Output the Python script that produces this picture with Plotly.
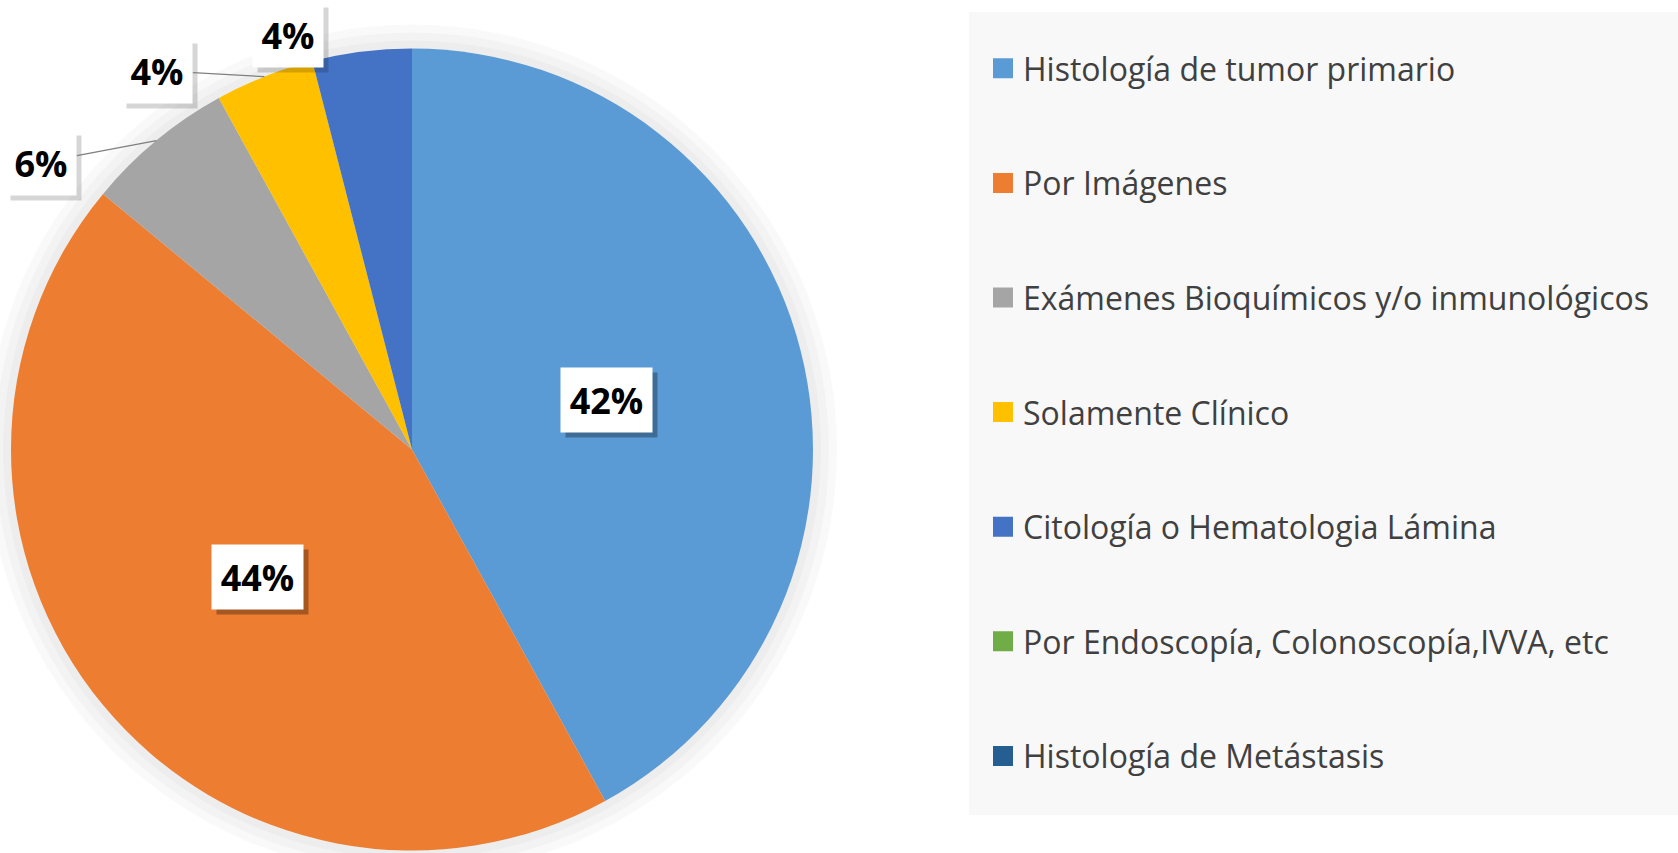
import math
import plotly.graph_objects as go

# ---------------- data ----------------
labels = [
    "Histología de tumor primario",
    "Por Imágenes",
    "Exámenes Bioquímicos y/o inmunológicos",
    "Solamente Clínico",
    "Citología o Hematologia Lámina",
    "Por Endoscopía, Colonoscopía,IVVA, etc",
    "Histología de Metástasis",
]
values = [42, 44, 6, 4, 4, 0, 0]
colors = ["#5B9BD5", "#ED7D31", "#A5A5A5", "#FFC000", "#4472C4", "#70AD47", "#255E91"]

# ---------------- layout / style ----------------
W, H = 1678, 853
dom_x = [11 / W, 813 / W]
dom_y = [1 - 851 / H, 1 - 48 / H]
# label offsets (px) for small slices placed outside, relative to slice edge
outside_offsets = {2: (-115, 22), 3: (-107, -6), 4: (-74, -17)}
leader_visible = {2: True, 3: True, 4: False}

fig = go.Figure()

fig.add_trace(go.Pie(
    labels=labels, values=values, sort=False, direction="clockwise", rotation=0,
    marker=dict(colors=colors, line=dict(width=0)),
    textinfo="none", domain=dict(x=dom_x, y=dom_y), showlegend=False,
    hoverinfo="label+percent",
))

# legend entries (dummy traces so that item spacing can be controlled)
for i, (lab, col) in enumerate(zip(labels, colors)):
    fig.add_trace(go.Scatter(
        x=[None], y=[None], mode="markers", name=lab, legendgroup=f"g{i}",
        marker=dict(symbol="square", size=16, color=col, line=dict(width=4, color=col)),
        showlegend=True, hoverinfo="skip",
    ))

# geometry of pie in pixels
cx = (dom_x[0] + dom_x[1]) / 2 * W
cy = (1 - (dom_y[0] + dom_y[1]) / 2) * H
R = min((dom_x[1] - dom_x[0]) * W, (dom_y[1] - dom_y[0]) * H) / 2

total = sum(values)
cum = 0.0
annotations = []
shadow_in = "rgba(0,0,0,0.30)"
shadow_out = "rgba(0,0,0,0.16)"
font = dict(family="Open Sans", size=36, color="black")
for i, v in enumerate(values):
    if v == 0:
        continue
    a0 = cum / total * 360
    cum += v
    a1 = cum / total * 360
    mid = math.radians((a0 + a1) / 2)
    txt = f"<b>{v}%</b>"
    if i in outside_offsets:
        px = cx + R * math.sin(mid)
        py = cy - R * math.cos(mid)
        ax, ay = outside_offsets[i]
        common = dict(x=px / W, y=1 - py / H, xref="paper", yref="paper",
                      showarrow=True, ax=ax, ay=ay, arrowhead=0, arrowwidth=1.3,
                      borderpad=8, font=font, width=54, height=48)
        annotations.append(dict(common, text=" ", bgcolor=shadow_out, xshift=5, yshift=-5,
                                arrowcolor="rgba(0,0,0,0)"))
        annotations.append(dict(common, text=txt, bgcolor="white",
                                arrowcolor="#7f7f7f" if leader_visible[i] else "rgba(0,0,0,0)"))
    else:
        px = cx + 0.5 * R * math.sin(mid)
        py = cy - 0.5 * R * math.cos(mid)
        common = dict(x=px / W, y=1 - py / H, xref="paper", yref="paper",
                      xanchor="center", yanchor="middle", width=75, height=48,
                      showarrow=False, borderpad=8, font=font)
        annotations.append(dict(common, text=" ", bgcolor=shadow_in, xshift=5, yshift=-5))
        annotations.append(dict(common, text=txt, bgcolor="white"))

# soft halo (shadow) around the pie, plus legend background
shapes = []
for k in (24, 16, 8):
    shapes.append(dict(type="circle", xref="paper", yref="paper",
                       x0=(cx - R - k) / W, x1=(cx + R + k) / W,
                       y0=1 - (cy + R + k) / H, y1=1 - (cy - R - k) / H,
                       fillcolor="rgba(0,0,0,0.025)", line=dict(width=0), layer="below"))
shapes.append(dict(type="rect", xref="paper", yref="paper",
                   x0=969 / W, x1=1.0, y0=1 - 815 / H, y1=1 - 12 / H,
                   fillcolor="#F8F8F8", line=dict(width=0), layer="below"))

fig.update_layout(
    width=W, height=H,
    margin=dict(l=0, r=0, t=0, b=0),
    paper_bgcolor="white", plot_bgcolor="rgba(0,0,0,0)",
    xaxis=dict(visible=False), yaxis=dict(visible=False),
    annotations=annotations,
    shapes=shapes,
    legend=dict(
        x=983 / W, y=1 - 41 / H, xanchor="left", yanchor="top",
        bgcolor="rgba(0,0,0,0)", borderwidth=0,
        font=dict(family="Open Sans", size=32, color="#404040"),
        tracegroupgap=70, itemwidth=30,
    ),
)

fig.write_html("out.html", config={"displayModeBar": False},
               post_script="document.body.style.margin='0px';")
